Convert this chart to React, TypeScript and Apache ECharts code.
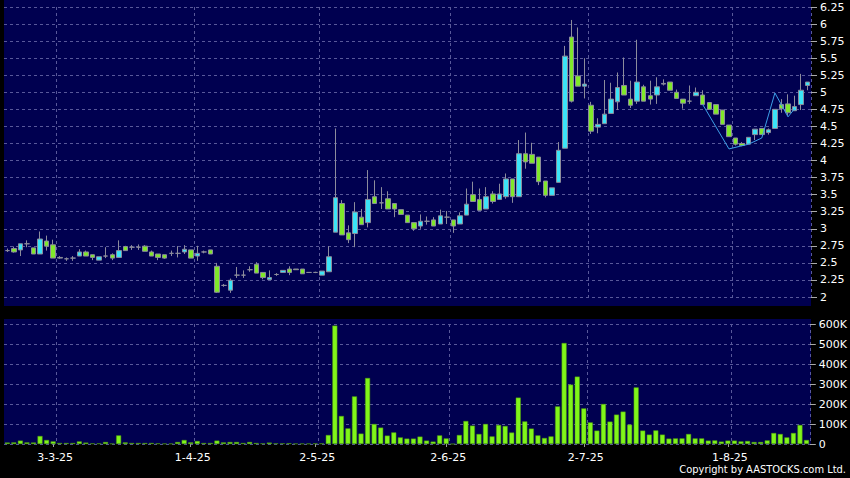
import React, { useEffect, useRef } from "react";
import * as echarts from "echarts";

// Trading days (HK market), Feb 20 2025 – Aug 19 2025
const tradingDays: [string, number[]][] = [
  ["2025-02", [20, 21, 24, 25, 26, 27, 28]],
  ["2025-03", [3, 4, 5, 6, 7, 10, 11, 12, 13, 14, 17, 18, 19, 20, 21, 24, 25, 26, 27, 28, 31]],
  ["2025-04", [1, 2, 3, 7, 8, 9, 10, 11, 14, 15, 16, 17, 22, 23, 24, 25, 28, 29, 30]],
  ["2025-05", [2, 6, 7, 8, 9, 12, 13, 14, 15, 16, 19, 20, 21, 22, 23, 26, 27, 28, 29, 30]],
  ["2025-06", [2, 3, 4, 5, 6, 9, 10, 11, 12, 13, 16, 17, 18, 19, 20, 23, 24, 25, 26, 27, 30]],
  ["2025-07", [2, 3, 4, 7, 8, 9, 10, 11, 14, 15, 16, 17, 18, 21, 22, 23, 24, 25, 28, 29, 30, 31]],
  ["2025-08", [1, 4, 5, 6, 7, 8, 11, 12, 13, 14, 15, 18, 19]],
];

// [open, close, low, high]
const ohlc: number[][] = [
  [2.68, 2.68, 2.66, 2.71], [2.71, 2.66, 2.65, 2.74], [2.69, 2.78, 2.6, 2.78], [2.78, 2.78, 2.73, 2.83],
  [2.72, 2.63, 2.63, 2.72], [2.63, 2.85, 2.63, 2.96], [2.82, 2.745, 2.68, 2.9], [2.765, 2.57, 2.57, 2.84],
  [2.58, 2.57, 2.56, 2.6], [2.56, 2.56, 2.53, 2.58], [2.57, 2.57, 2.53, 2.6], [2.6, 2.66, 2.6, 2.7],
  [2.66, 2.6, 2.6, 2.68], [2.62, 2.58, 2.54, 2.62], [2.54, 2.59, 2.54, 2.59], [2.6, 2.6, 2.57, 2.73],
  [2.62, 2.57, 2.54, 2.64], [2.58, 2.68, 2.58, 2.83], [2.74, 2.68, 2.68, 2.75], [2.73, 2.73, 2.69, 2.76],
  [2.73, 2.73, 2.69, 2.77], [2.745, 2.67, 2.67, 2.76], [2.66, 2.6, 2.6, 2.68], [2.63, 2.58, 2.54, 2.63],
  [2.62, 2.57, 2.56, 2.62], [2.64, 2.64, 2.6, 2.68], [2.64, 2.64, 2.58, 2.745], [2.66, 2.7, 2.63, 2.76],
  [2.69, 2.57, 2.57, 2.69], [2.6, 2.64, 2.53, 2.75], [2.66, 2.66, 2.64, 2.68], [2.69, 2.63, 2.63, 2.69],
  [2.45, 2.07, 2.06, 2.5], [2.17, 2.17, 2.15, 2.19], [2.1, 2.245, 2.06, 2.27], [2.32, 2.32, 2.28, 2.44],
  [2.32, 2.32, 2.28, 2.39], [2.4, 2.4, 2.37, 2.45], [2.48, 2.35, 2.35, 2.51], [2.36, 2.285, 2.26, 2.36],
  [2.255, 2.285, 2.255, 2.39], [2.33, 2.33, 2.31, 2.35], [2.36, 2.39, 2.36, 2.39], [2.41, 2.36, 2.32, 2.45],
  [2.41, 2.4, 2.4, 2.41], [2.41, 2.34, 2.34, 2.41], [2.36, 2.36, 2.36, 2.36], [2.36, 2.36, 2.35, 2.37],
  [2.32, 2.38, 2.32, 2.38], [2.37, 2.59, 2.37, 2.745], [2.95, 3.456, 2.95, 4.47], [3.37, 2.91, 2.91, 3.42],
  [2.94, 2.84, 2.79, 3.05], [2.93, 3.245, 2.73, 3.39], [3.17, 3.06, 3.06, 3.29], [3.09, 3.43, 3.02, 3.86],
  [3.47, 3.37, 3.37, 3.71], [3.38, 3.38, 3.29, 3.61], [3.44, 3.29, 3.29, 3.55], [3.37, 3.29, 3.17, 3.37],
  [3.28, 3.21, 3.21, 3.28], [3.2, 3.09, 3.09, 3.2], [3.09, 3.0, 2.97, 3.09], [3.04, 3.11, 3.0, 3.21],
  [3.11, 3.11, 3.06, 3.18], [3.13, 3.04, 3.04, 3.17], [3.07, 3.19, 3.07, 3.28], [3.17, 3.17, 3.07, 3.26],
  [3.13, 3.04, 2.94, 3.13], [3.07, 3.19, 3.07, 3.24], [3.2, 3.36, 3.2, 3.59], [3.5, 3.4, 3.4, 3.69],
  [3.43, 3.27, 3.27, 3.59], [3.29, 3.47, 3.29, 3.61], [3.51, 3.4, 3.37, 3.55], [3.43, 3.51, 3.43, 3.66],
  [3.47, 3.73, 3.44, 3.81], [3.73, 3.47, 3.38, 3.73], [3.47, 4.1, 3.47, 4.3], [4.1, 3.98, 3.88, 4.41],
  [4.09, 3.96, 3.96, 4.26], [4.05, 3.69, 3.64, 4.05], [3.7, 3.49, 3.46, 3.7], [3.49, 3.6, 3.49, 3.6],
  [3.68, 4.15, 3.68, 4.27], [4.18, 5.53, 4.18, 5.68], [5.81, 4.87, 4.85, 6.06], [5.24, 5.09, 5.09, 5.95],
  [5.09, 5.12, 4.91, 5.5], [4.81, 4.43, 4.39, 4.86], [4.49, 4.53, 4.4, 4.62], [4.54, 4.68, 4.54, 5.18],
  [4.69, 4.9, 4.69, 5.14], [4.86, 5.07, 4.74, 5.29], [5.1, 4.96, 4.96, 5.51], [4.9, 4.81, 4.77, 5.17],
  [4.87, 5.15, 4.83, 5.77], [5.08, 4.87, 4.87, 5.11], [4.95, 4.9, 4.82, 5.17], [4.96, 5.08, 4.83, 5.22],
  [5.12, 5.13, 5.1, 5.19], [5.15, 5.03, 5.03, 5.15], [5.0, 4.91, 4.91, 5.04], [4.9, 4.84, 4.76, 4.9],
  [4.87, 4.87, 4.83, 5.1], [4.95, 5.0, 4.95, 5.07], [4.96, 4.82, 4.82, 5.03], [4.85, 4.75, 4.75, 4.85],
  [4.82, 4.68, 4.68, 4.82], [4.74, 4.53, 4.53, 4.74], [4.52, 4.35, 4.35, 4.52], [4.33, 4.24, 4.22, 4.33],
  [4.25, 4.22, 4.21, 4.27], [4.24, 4.34, 4.24, 4.34], [4.38, 4.46, 4.3, 4.46], [4.47, 4.38, 4.38, 4.47],
  [4.41, 4.45, 4.38, 4.47], [4.47, 4.75, 4.47, 4.75], [4.82, 4.76, 4.7, 4.9], [4.83, 4.7, 4.66, 4.97],
  [4.73, 4.79, 4.73, 4.95], [4.82, 5.03, 4.74, 5.27], [5.1, 5.15, 5.03, 5.15],
];

// Volume in thousands
const volumeK: number[] = [
  7, 8, 17, 8, 7, 40, 20, 13, 5, 5, 5, 13, 7, 3, 3, 10, 2, 43, 8, 5,
  5, 5, 5, 3, 2, 2, 10, 20, 8, 15, 5, 5, 17, 8, 10, 10, 5, 10, 5, 3,
  7, 3, 3, 4, 2, 2, 2, 3, 3, 45, 592, 140, 78, 238, 52, 330, 100, 82, 42, 58,
  33, 27, 27, 37, 17, 12, 43, 28, 0, 45, 115, 92, 50, 100, 38, 95, 90, 57, 232, 113,
  77, 43, 30, 38, 188, 505, 297, 337, 178, 108, 67, 200, 112, 147, 162, 97, 283, 67, 47, 68,
  47, 27, 28, 28, 50, 28, 28, 17, 18, 12, 17, 17, 13, 15, 10, 10, 18, 55, 50, 33,
  55, 95, 20,
];

// Overlay trend line (zigzag) points
const zigzagIdx = [106, 110, 113, 115, 117, 119, 120];
const zigzagVal = [4.82, 4.17, 4.24, 4.33, 4.99, 4.64, 4.76];

const tickIndex = [7, 28, 47, 67, 88, 110];
const tickLabels = ["3-3-25", "1-4-25", "2-5-25", "2-6-25", "2-7-25", "1-8-25"];

const priceTicks = { min: 2, max: 6.25, interval: 0.25 };
const volTicks = { min: 0, max: 600000, interval: 100000 };

export default function App() {
  const ref = useRef<HTMLDivElement>(null);
  useEffect(() => {
    if (!ref.current) return;
    const chart = echarts.init(ref.current, undefined, { renderer: "svg" });
    const categories = tradingDays.flatMap(([m, days]) =>
      days.map((d) => `${m}-${String(d).padStart(2, "0")}`)
    );
    const zigzag: (number | null)[] = categories.map(() => null);
    zigzagIdx.forEach((idx, k) => (zigzag[idx] = zigzagVal[k]));
    const volume = volumeK.map((v) => v * 1000);
    const splitIdx = tickIndex.map((i) => i + 1);
    const gridLine = { color: "#58589a", type: [3, 3] as any, width: 1 };
    const font = "DejaVu Sans";

    chart.setOption({
      animation: false,
      backgroundColor: "#000000",
      graphic: [
        { type: "rect", z: -10, silent: true, shape: { x: 4, y: 0, width: 807, height: 306 }, style: { fill: "#000050" } },
        { type: "rect", z: -10, silent: true, shape: { x: 4, y: 319, width: 807, height: 125 }, style: { fill: "#000050" } },
        {
          type: "text",
          right: 4,
          top: 464,
          style: {
            text: "Copyright by AASTOCKS.com Ltd.",
            fill: "#ffffff",
            font: '11px "DejaVu Sans Condensed", "DejaVu Sans"',
          },
        },
      ],
      grid: [
        { left: 4, right: 39, top: 7, bottom: 181 },
        { left: 4, right: 39, top: 324, bottom: 34 },
      ],
      xAxis: [
        {
          type: "category",
          gridIndex: 0,
          data: categories,
          boundaryGap: true,
          axisLine: { show: false },
          axisTick: { show: false },
          axisLabel: { show: false },
          splitLine: { show: true, interval: (i: number) => splitIdx.includes(i), lineStyle: gridLine },
        },
        {
          type: "category",
          gridIndex: 1,
          data: categories,
          boundaryGap: true,
          axisLine: { show: false },
          axisTick: {
            show: true,
            alignWithLabel: true,
            interval: (i: number) => tickIndex.includes(i),
            length: 3,
            lineStyle: { color: "#9a9a9a" },
          },
          axisLabel: {
            interval: (i: number) => tickIndex.includes(i),
            formatter: (_v: string, i: number) => tickLabels[tickIndex.indexOf(i)] ?? "",
            color: "#ffffff",
            fontSize: 11,
            fontFamily: font,
            margin: 8,
            padding: [0, 0, 0, 4],
          },
          splitLine: { show: true, interval: (i: number) => splitIdx.includes(i), lineStyle: gridLine },
        },
      ],
      yAxis: [
        {
          type: "value",
          gridIndex: 0,
          position: "right",
          ...priceTicks,
          axisLine: { show: false },
          axisTick: { show: true, length: 6, lineStyle: { color: "#aaaaaa" } },
          axisLabel: { color: "#ffffff", fontSize: 11, fontFamily: font, margin: 9 },
          splitLine: { show: true, lineStyle: gridLine },
        },
        {
          type: "value",
          gridIndex: 1,
          position: "right",
          ...volTicks,
          axisLine: { show: false },
          axisTick: { show: true, length: 6, lineStyle: { color: "#aaaaaa" } },
          axisLabel: {
            color: "#ffffff",
            fontSize: 11,
            fontFamily: font,
            margin: 9,
            formatter: (v: number) => (v === 0 ? "0" : `${v / 1000}K`),
          },
          splitLine: { show: true, lineStyle: gridLine },
        },
      ],
      series: [
        {
          type: "candlestick",
          xAxisIndex: 0,
          yAxisIndex: 0,
          data: ohlc,
          barWidth: 5,
          itemStyle: {
            color: "#3be3f7",
            color0: "#80e82a",
            borderColor: "#8c8c9c",
            borderColor0: "#8c8c9c",
            borderColorDoji: "#8c8c9c",
            borderWidth: 1,
          },
        },
        {
          type: "line",
          xAxisIndex: 0,
          yAxisIndex: 0,
          data: zigzag,
          connectNulls: true,
          symbol: "none",
          lineStyle: { color: "#3d9fe8", width: 1 },
          z: 3,
        },
        {
          type: "bar",
          xAxisIndex: 1,
          yAxisIndex: 1,
          data: volume,
          barWidth: 5,
          itemStyle: { color: "#80f51a", borderColor: "#4f9a0c", borderWidth: 0.5 },
        },
      ],
    });
    return () => chart.dispose();
  }, []);
  return (
    <div
      ref={ref}
      style={{ position: "fixed", left: 0, top: 0, width: 850, height: 478 }}
    />
  );
}
